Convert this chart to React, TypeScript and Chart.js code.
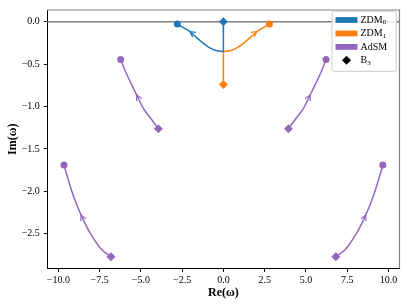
import React, { useEffect, useRef } from "react";
import { Chart, registerables } from "chart.js";

Chart.register(...registerables);

// ---------- data ----------
const xTicks = [-10, -7.5, -5, -2.5, 0, 2.5, 5, 7.5, 10];
const yTicks = [0, -0.5, -1.0, -1.5, -2.0, -2.5];

// ZDM0 (blue): stem from B3 down to the junction, then curve to the end point
const zdm0StemX = [0, 0];
const zdm0StemY = [0, -0.35];
const zdm0CurveX = [0, -0.45, -0.9, -1.35, -1.8, -2.02, -2.4, -2.79];
const zdm0CurveY = [-0.35, -0.337, -0.297, -0.232, -0.155, -0.116, -0.07, -0.025];

// ZDM1 (orange)
const zdm1StemX = [0, 0];
const zdm1StemY = [-0.74, -0.35];
const zdm1CurveX = [0, 0.45, 0.9, 1.35, 1.8, 2.02, 2.4, 2.79];
const zdm1CurveY = [-0.35, -0.337, -0.297, -0.232, -0.155, -0.116, -0.07, -0.025];

// AdSM (purple), four branches
const adsmUpLeftX = [-3.94, -4.34, -4.85, -5.25, -5.59, -5.96, -6.22];
const adsmUpLeftY = [-1.26, -1.155, -1.02, -0.864, -0.729, -0.573, -0.445];
const adsmUpRightX = [3.94, 4.34, 4.85, 5.25, 5.59, 5.96, 6.22];
const adsmUpRightY = [-1.26, -1.155, -1.02, -0.864, -0.729, -0.573, -0.445];
const adsmLowLeftX = [-6.81, -7.37, -8.08, -8.62, -9.03, -9.39, -9.66];
const adsmLowLeftY = [-2.77, -2.69, -2.49, -2.28, -2.085, -1.87, -1.69];
const adsmLowRightX = [6.81, 7.37, 8.08, 8.62, 9.03, 9.39, 9.66];
const adsmLowRightY = [-2.77, -2.69, -2.49, -2.28, -2.085, -1.87, -1.69];

// arrow vertex index per curve
const zdmArrowIndex = 5;
const adsmArrowIndex = 3;

const legendNames = ["ZDM", "ZDM", "AdSM", "B"];
const legendSubs = ["0", "1", "", "3"];

// ---------- styles ----------
const BLUE = "#1f77b4";
const ORANGE = "#ff7f0e";
const PURPLE = "#9467bd";
const SERIF = "'Liberation Serif', 'DejaVu Serif', 'Times New Roman', serif";
const legendColors = [BLUE, ORANGE, PURPLE, "#000000"];

const pts = (xs: number[], ys: number[]) => xs.map((x, i) => ({ x, y: ys[i] }));
const first = (xs: number[], ys: number[]) => ({ x: xs[0], y: ys[0] });
const last = (xs: number[], ys: number[]) => ({ x: xs[xs.length - 1], y: ys[ys.length - 1] });

const lineDs = (data: any[], color: string, arrow: number | null, tension = 0.35) => ({
  type: "line" as const,
  data,
  borderColor: color,
  backgroundColor: color,
  borderWidth: 1.5,
  pointRadius: 0,
  pointHoverRadius: 0,
  tension,
  fill: false,
  order: 2,
  arrowIndex: arrow,
});

const markerDs = (data: any[], color: string, style: string, radius: number) => ({
  type: "scatter" as const,
  data,
  showLine: false,
  pointStyle: style,
  pointRadius: radius,
  pointHoverRadius: radius,
  backgroundColor: color,
  borderColor: color,
  borderWidth: 0,
  order: 0,
});

const decorPlugin = {
  id: "decor",
  beforeDatasetsDraw(chart: any) {
    const { ctx, chartArea, scales } = chart;
    const y0 = scales.y.getPixelForValue(0);
    ctx.save();
    ctx.strokeStyle = "#808080";
    ctx.lineWidth = 1.5;
    ctx.beginPath();
    ctx.moveTo(chartArea.left, y0);
    ctx.lineTo(chartArea.right, y0);
    ctx.stroke();
    // top and right spines
    ctx.lineWidth = 1.2;
    ctx.beginPath();
    ctx.moveTo(chartArea.left, chartArea.top);
    ctx.lineTo(chartArea.right, chartArea.top);
    ctx.lineTo(chartArea.right, chartArea.bottom);
    ctx.stroke();
    ctx.restore();
  },
  afterDatasetsDraw(chart: any) {
    const { ctx } = chart;
    chart.data.datasets.forEach((ds: any, di: number) => {
      if (ds.arrowIndex == null) return;
      const meta = chart.getDatasetMeta(di);
      const p = meta.data;
      const i = ds.arrowIndex;
      const a = p[i - 1], b = p[i], c = p[i + 1];
      const ang = Math.atan2(c.y - a.y, c.x - a.x);
      const len = 6;
      const spread = 0.5;
      ctx.save();
      ctx.strokeStyle = ds.borderColor;
      ctx.lineWidth = 1.2;
      ctx.beginPath();
      ctx.moveTo(b.x - len * Math.cos(ang - spread), b.y - len * Math.sin(ang - spread));
      ctx.lineTo(b.x, b.y);
      ctx.lineTo(b.x - len * Math.cos(ang + spread), b.y - len * Math.sin(ang + spread));
      ctx.stroke();
      ctx.restore();
    });
  },
  afterDraw(chart: any) {
    const { ctx } = chart;
    const bx = 332, by = 11.3, bw = 64.3, bh = 60;
    ctx.save();
    ctx.fillStyle = "rgba(255,255,255,0.85)";
    ctx.strokeStyle = "#cccccc";
    ctx.lineWidth = 1;
    const r = 2;
    ctx.beginPath();
    ctx.moveTo(bx + r, by);
    ctx.lineTo(bx + bw - r, by);
    ctx.quadraticCurveTo(bx + bw, by, bx + bw, by + r);
    ctx.lineTo(bx + bw, by + bh - r);
    ctx.quadraticCurveTo(bx + bw, by + bh, bx + bw - r, by + bh);
    ctx.lineTo(bx + r, by + bh);
    ctx.quadraticCurveTo(bx, by + bh, bx, by + bh - r);
    ctx.lineTo(bx, by + r);
    ctx.quadraticCurveTo(bx, by, bx + r, by);
    ctx.closePath();
    ctx.fill();
    ctx.stroke();

    const rowY0 = 20, rowStep = 13.45;
    const hx = 335.5, hw = 22, hh = 5.8;
    const tx = 360.5;
    legendNames.forEach((name, i) => {
      const cy = rowY0 + i * rowStep;
      ctx.fillStyle = legendColors[i];
      if (i < 3) {
        ctx.fillRect(hx, cy - hh / 2, hw, hh);
      } else {
        const cx = hx + hw / 2, d = 4.5;
        ctx.beginPath();
        ctx.moveTo(cx, cy - d);
        ctx.lineTo(cx + d, cy);
        ctx.lineTo(cx, cy + d);
        ctx.lineTo(cx - d, cy);
        ctx.closePath();
        ctx.fill();
      }
      ctx.fillStyle = "#000";
      ctx.textBaseline = "middle";
      ctx.textAlign = "left";
      ctx.font = `10px ${SERIF}`;
      ctx.fillText(name, tx, cy);
      const w = ctx.measureText(name).width;
      if (legendSubs[i]) {
        ctx.font = `7px ${SERIF}`;
        ctx.fillText(legendSubs[i], tx + w, cy + 2.5);
      }
    });
    ctx.restore();
  },
};

const fmt = (v: number) => (Math.abs(v) < 1e-9 ? "0.0" : v.toFixed(1).replace("-", "\u2212"));

export default function App() {
  const ref = useRef<HTMLCanvasElement | null>(null);

  useEffect(() => {
    if (!ref.current) return;
    const chart = new Chart(ref.current, {
      type: "scatter",
      data: {
        datasets: [
          markerDs([first(zdm0StemX, zdm0StemY)], BLUE, "rectRot", 4.5),
          markerDs([first(zdm1StemX, zdm1StemY)], ORANGE, "rectRot", 4.5),
          markerDs(
            [
              first(adsmUpLeftX, adsmUpLeftY),
              first(adsmUpRightX, adsmUpRightY),
              first(adsmLowLeftX, adsmLowLeftY),
              first(adsmLowRightX, adsmLowRightY),
            ],
            PURPLE,
            "rectRot",
            4.5
          ),
          markerDs([last(zdm0CurveX, zdm0CurveY)], BLUE, "circle", 3.5),
          markerDs([last(zdm1CurveX, zdm1CurveY)], ORANGE, "circle", 3.5),
          markerDs(
            [
              last(adsmUpLeftX, adsmUpLeftY),
              last(adsmUpRightX, adsmUpRightY),
              last(adsmLowLeftX, adsmLowLeftY),
              last(adsmLowRightX, adsmLowRightY),
            ],
            PURPLE,
            "circle",
            3.5
          ),
          lineDs(pts(zdm0StemX, zdm0StemY), BLUE, null, 0),
          lineDs(pts(zdm0CurveX, zdm0CurveY), BLUE, zdmArrowIndex),
          lineDs(pts(zdm1StemX, zdm1StemY), ORANGE, null, 0),
          lineDs(pts(zdm1CurveX, zdm1CurveY), ORANGE, zdmArrowIndex),
          lineDs(pts(adsmUpLeftX, adsmUpLeftY), PURPLE, adsmArrowIndex),
          lineDs(pts(adsmUpRightX, adsmUpRightY), PURPLE, adsmArrowIndex),
          lineDs(pts(adsmLowLeftX, adsmLowLeftY), PURPLE, adsmArrowIndex),
          lineDs(pts(adsmLowRightX, adsmLowRightY), PURPLE, adsmArrowIndex),
        ] as any,
      },
      options: {
        animation: false,
        responsive: false,
        devicePixelRatio: 1,
        events: [],
        layout: { padding: { left: 0, right: 7.5, top: 6.5, bottom: 0 } },
        plugins: { legend: { display: false }, tooltip: { enabled: false } },
        scales: {
          x: {
            type: "linear",
            min: -10.67,
            max: 10.67,
            afterBuildTicks: (s: any) => {
              s.ticks = xTicks.map((v) => ({ value: v }));
            },
            afterFit: (s: any) => {
              s.height = 39.5;
            },
            ticks: {
              callback: (v: any) => fmt(Number(v)),
              font: { family: SERIF, size: 10 },
              color: "#000",
              padding: 2,
              maxRotation: 0,
              autoSkip: false,
            },
            grid: {
              display: true,
              drawOnChartArea: false,
              drawTicks: true,
              tickLength: 3.5,
              tickColor: "#000",
              tickWidth: 1,
            },
            border: { display: true, color: "#000", width: 1 },
            title: {
              display: true,
              text: "Re(\u03c9)",
              color: "#000",
              font: { family: SERIF, size: 12, weight: "bold" },
              padding: { top: 0, bottom: 7.8 },
            },
          },
          y: {
            type: "linear",
            min: -2.91,
            max: 0.14,
            afterBuildTicks: (s: any) => {
              s.ticks = yTicks.map((v) => ({ value: v }));
            },
            afterFit: (s: any) => {
              s.width = 47.3;
            },
            ticks: {
              callback: (v: any) => fmt(Number(v)),
              font: { family: SERIF, size: 10 },
              color: "#000",
              padding: 4,
              autoSkip: false,
            },
            grid: {
              display: true,
              drawOnChartArea: false,
              drawTicks: true,
              tickLength: 3.5,
              tickColor: "#000",
              tickWidth: 1,
            },
            border: { display: true, color: "#000", width: 1 },
            title: {
              display: true,
              text: "Im(\u03c9)",
              color: "#000",
              font: { family: SERIF, size: 12, weight: "bold" },
              padding: { top: 5.8, bottom: 0 },
            },
          },
        },
      } as any,
      plugins: [decorPlugin],
    });
    return () => chart.destroy();
  }, []);

  return (
    <div style={{ position: "fixed", left: 0, top: 0, width: 407, height: 308, background: "#fff" }}>
      <canvas ref={ref} width={407} height={308} style={{ display: "block" }} />
    </div>
  );
}
